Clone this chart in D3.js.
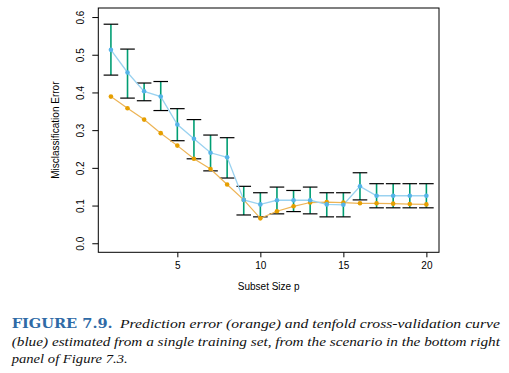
<!DOCTYPE html>
<html><head><meta charset="utf-8">
<script src="https://cdn.jsdelivr.net/npm/d3@7"></script>
<style>body{margin:0;background:#fff}svg{display:block}</style>
</head><body>
<svg id="c" width="509" height="373"></svg>
<script>
const subsetSize = [1,2,3,4,5,6,7,8,9,10,11,12,13,14,15,16,17,18,19,20];
const cvError = [0.513,0.453,0.403,0.389,0.315,0.277,0.240,0.228,0.115,0.103,0.114,0.114,0.114,0.103,0.102,0.151,0.126,0.126,0.126,0.126];
const cvUpper = [0.581,0.515,0.425,0.429,0.357,0.328,0.287,0.280,0.151,0.134,0.149,0.140,0.149,0.134,0.134,0.187,0.158,0.158,0.158,0.158];
const cvLower = [0.446,0.385,0.378,0.352,0.272,0.224,0.192,0.173,0.075,0.070,0.078,0.084,0.078,0.070,0.070,0.115,0.094,0.094,0.094,0.094];
const predError = [0.389,0.358,0.328,0.292,0.259,0.224,0.197,0.156,0.115,0.066,0.085,0.098,0.108,0.109,0.108,0.106,0.106,0.105,0.104,0.103];
const xTicks = [5,10,15,20];
const yTicks = [0.0,0.1,0.2,0.3,0.4,0.5,0.6];
const xTitle = "Subset Size p";
const yTitle = "Misclassification Error";
const captionLabel = "FIGURE 7.9.";
const captionLines = [
  "Prediction error (orange) and tenfold cross-validation curve",
  "(blue) estimated from a single training set, from the scenario in the bottom right",
  "panel of Figure 7.3."
];

const svg = d3.select("#c");
const L = 98.3, R = 439, T = 8, B = 252.3;
const x = d3.scaleLinear().domain([0.24, 20.76]).range([L, R]);
const y = d3.scaleLinear().domain([-0.024, 0.624]).range([B, T]);
const sans = "Liberation Sans, Arial, sans-serif";

// box
svg.append("rect").attr("x", L).attr("y", T).attr("width", R - L).attr("height", B - T)
  .attr("fill", "none").attr("stroke", "#000").attr("stroke-width", 1);

// x axis
const xa = svg.append("g").attr("transform", `translate(0,${B})`)
  .call(d3.axisBottom(x).tickValues(xTicks).tickSize(5).tickPadding(5).tickFormat(d3.format("d")));
xa.select(".domain").remove();
xa.selectAll("text").attr("font-family", sans).attr("font-size", 10).attr("fill", "#000");

// y axis
const ya = svg.append("g").attr("transform", `translate(${L},0)`)
  .call(d3.axisLeft(y).tickValues(yTicks).tickSize(6).tickFormat(d3.format(".1f")));
ya.select(".domain").remove();
ya.selectAll("text").attr("font-family", sans).attr("font-size", 10).attr("fill", "#000")
  .attr("text-anchor", "middle").attr("dy", null).attr("x", null)
  .attr("transform", "translate(-18,0) rotate(-90)").attr("dominant-baseline", "central");

// titles
svg.append("text").attr("x", (L + R) / 2).attr("y", 290).attr("text-anchor", "middle")
  .attr("font-family", sans).attr("font-size", 10).text(xTitle);
svg.append("text").attr("transform", `translate(58.5,${(T + B) / 2}) rotate(-90)`).attr("text-anchor", "middle")
  .attr("font-family", sans).attr("font-size", 10).text(yTitle);

const idx = d3.range(subsetSize.length);
// error bars
const eb = svg.append("g");
eb.selectAll("line.v").data(idx).join("line")
  .attr("x1", i => x(subsetSize[i])).attr("x2", i => x(subsetSize[i]))
  .attr("y1", i => y(cvUpper[i])).attr("y2", i => y(cvLower[i]))
  .attr("stroke", "#009E73").attr("stroke-width", 1.6);
[cvUpper, cvLower].forEach(arr => {
  eb.selectAll(null).data(idx).join("line")
    .attr("x1", i => x(subsetSize[i]) - 7.3).attr("x2", i => x(subsetSize[i]) + 7.3)
    .attr("y1", i => y(arr[i])).attr("y2", i => y(arr[i]))
    .attr("stroke", "#000").attr("stroke-width", 1.2);
});

// lines
const line = d3.line().x(i => x(subsetSize[i]));
svg.append("path").attr("d", line.y(i => y(predError[i]))(idx))
  .attr("fill", "none").attr("stroke", "#EDB455").attr("stroke-width", 1.2);
svg.append("path").attr("d", line.y(i => y(cvError[i]))(idx))
  .attr("fill", "none").attr("stroke", "#9AD2F0").attr("stroke-width", 1.3);

// points
svg.append("g").selectAll("circle").data(idx).join("circle")
  .attr("cx", i => x(subsetSize[i])).attr("cy", i => y(predError[i])).attr("r", 2.3)
  .attr("fill", "#E69F00");
svg.append("g").selectAll("circle").data(idx).join("circle")
  .attr("cx", i => x(subsetSize[i])).attr("cy", i => y(cvError[i])).attr("r", 2.3)
  .attr("fill", "#56B4E9");

// caption
svg.append("text").attr("x", 11.7).attr("y", 328).attr("font-family", "'DejaVu Serif', serif").attr("font-weight", "bold")
  .attr("font-size", 12).attr("fill", "#2E6AA6").attr("textLength", 101).attr("lengthAdjust", "spacingAndGlyphs")
  .text(captionLabel);
const capSpecs = [
  {x: 120, y: 328, w: 380},
  {x: 11.7, y: 345.5, w: 488.3},
  {x: 11.7, y: 363, w: 116}
];
captionLines.forEach((t, k) => {
  svg.append("text").attr("x", capSpecs[k].x).attr("y", capSpecs[k].y)
    .attr("font-family", "'Liberation Serif', serif").attr("font-style", "italic").attr("font-size", 13.5).attr("fill", "#111")
    .attr("textLength", capSpecs[k].w).attr("lengthAdjust", "spacingAndGlyphs").text(t);
});
</script>
</body></html>
